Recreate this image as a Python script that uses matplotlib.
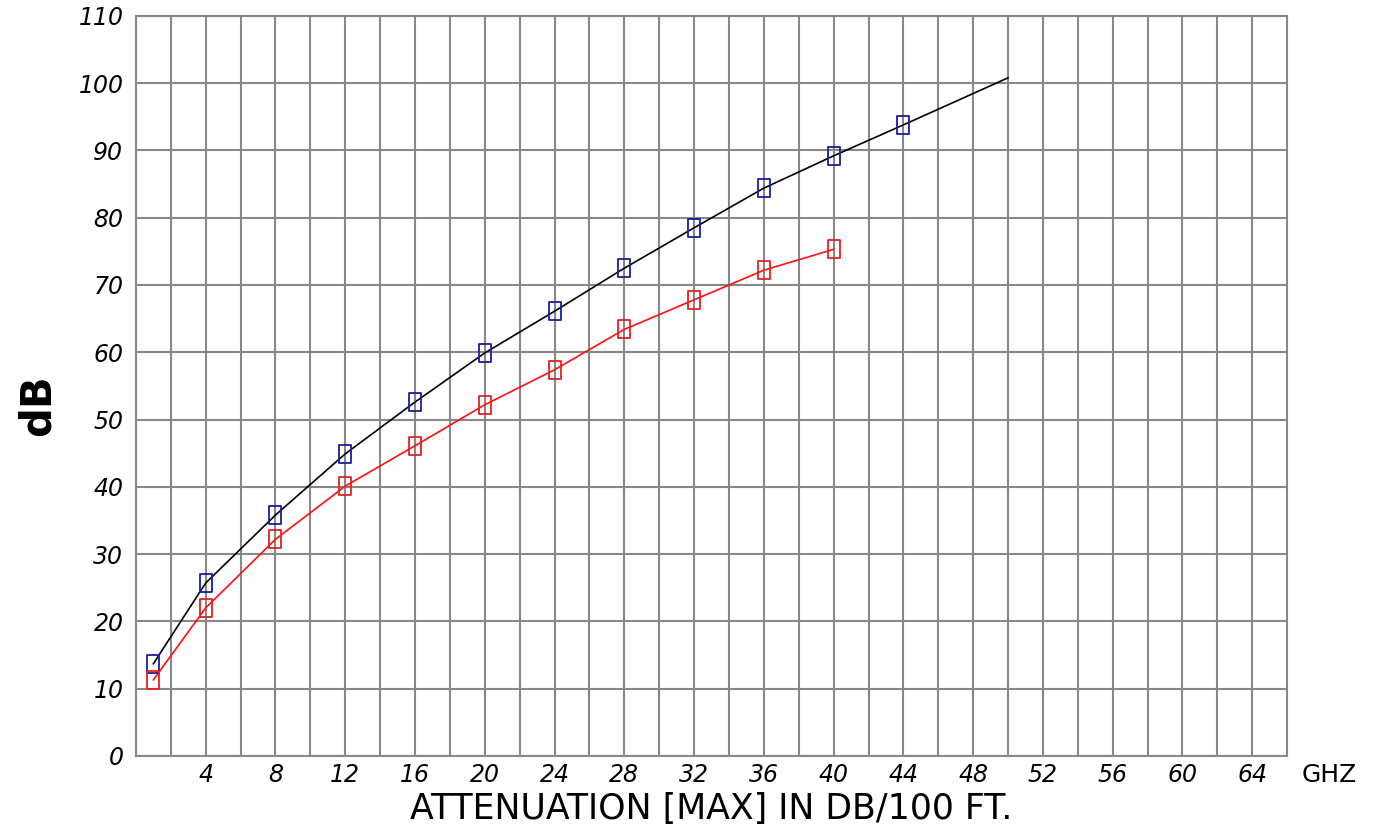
import numpy as np
import matplotlib.pyplot as plt
from matplotlib.path import Path

# measured points (GHz, dB)
freq_blue = [1, 4, 8, 12, 16, 20, 24, 28, 32, 36, 40, 44]
db_blue = [13.7, 25.7, 35.8, 44.9, 52.6, 59.9, 66.1, 72.5, 78.5, 84.4, 89.2, 93.8]

# black curve continues past the last blue marker
freq_black = freq_blue + [50]
db_black = db_blue + [100.8]

freq_red = [1, 4, 8, 12, 16, 20, 24, 28, 32, 36, 40]
db_red = [11.3, 22.0, 32.2, 40.1, 46.1, 52.2, 57.4, 63.4, 67.8, 72.2, 75.3]

x_ticks = list(range(4, 65, 4))
y_ticks = list(range(0, 111, 10))

# tall open rectangle marker
rect = Path([(-0.65, -1), (0.65, -1), (0.65, 1), (-0.65, 1), (-0.65, -1)],
            [Path.MOVETO, Path.LINETO, Path.LINETO, Path.LINETO, Path.CLOSEPOLY])

fig = plt.figure(figsize=(13.87, 8.38), dpi=100)
ax = fig.add_axes([0.098, 0.098, 0.830, 0.883])

grid_c = '#888888'
for gx in range(0, 67, 2):
    ax.axvline(gx, color=grid_c, lw=1.5, zorder=1)
for gy in y_ticks:
    ax.axhline(gy, color=grid_c, lw=1.5, zorder=1)

ax.plot(freq_black, db_black, '-', color='black', lw=1.2, zorder=3)
ax.plot(freq_blue, db_blue, linestyle='none', marker=rect, markersize=12.5,
        markerfacecolor='none', markeredgecolor='#1c1c9c', markeredgewidth=1.3, zorder=4)
ax.plot(freq_red, db_red, '-', color='#ff1010', lw=1.2, zorder=3)
ax.plot(freq_red, db_red, linestyle='none', marker=rect, markersize=12.5,
        markerfacecolor='none', markeredgecolor='#e62020', markeredgewidth=1.3, zorder=4)

ax.set_xlim(0, 66)
ax.set_ylim(0, 110)
for s in ax.spines.values():
    s.set_color(grid_c)
    s.set_linewidth(1.5)

ax.set_xticks(x_ticks)
ax.set_xticklabels([str(v) for v in x_ticks], fontsize=17, style='italic')
ax.set_yticks(y_ticks)
ax.set_yticklabels([str(v) for v in y_ticks], fontsize=17, style='italic')
ax.tick_params(length=0, pad=9)
ax.tick_params(axis='x', pad=5)

ax.text(1.013, -0.01, 'GHZ', transform=ax.transAxes, fontsize=18,
        ha='left', va='top')
ax.set_xlabel('ATTENUATION [MAX] IN DB/100 FT.', fontsize=25, labelpad=4)
ax.text(-0.085, 0.474, 'dB', transform=ax.transAxes, fontsize=30,
        fontweight='bold', rotation=90, ha='center', va='center')

fig.savefig('out.png', dpi=100)
